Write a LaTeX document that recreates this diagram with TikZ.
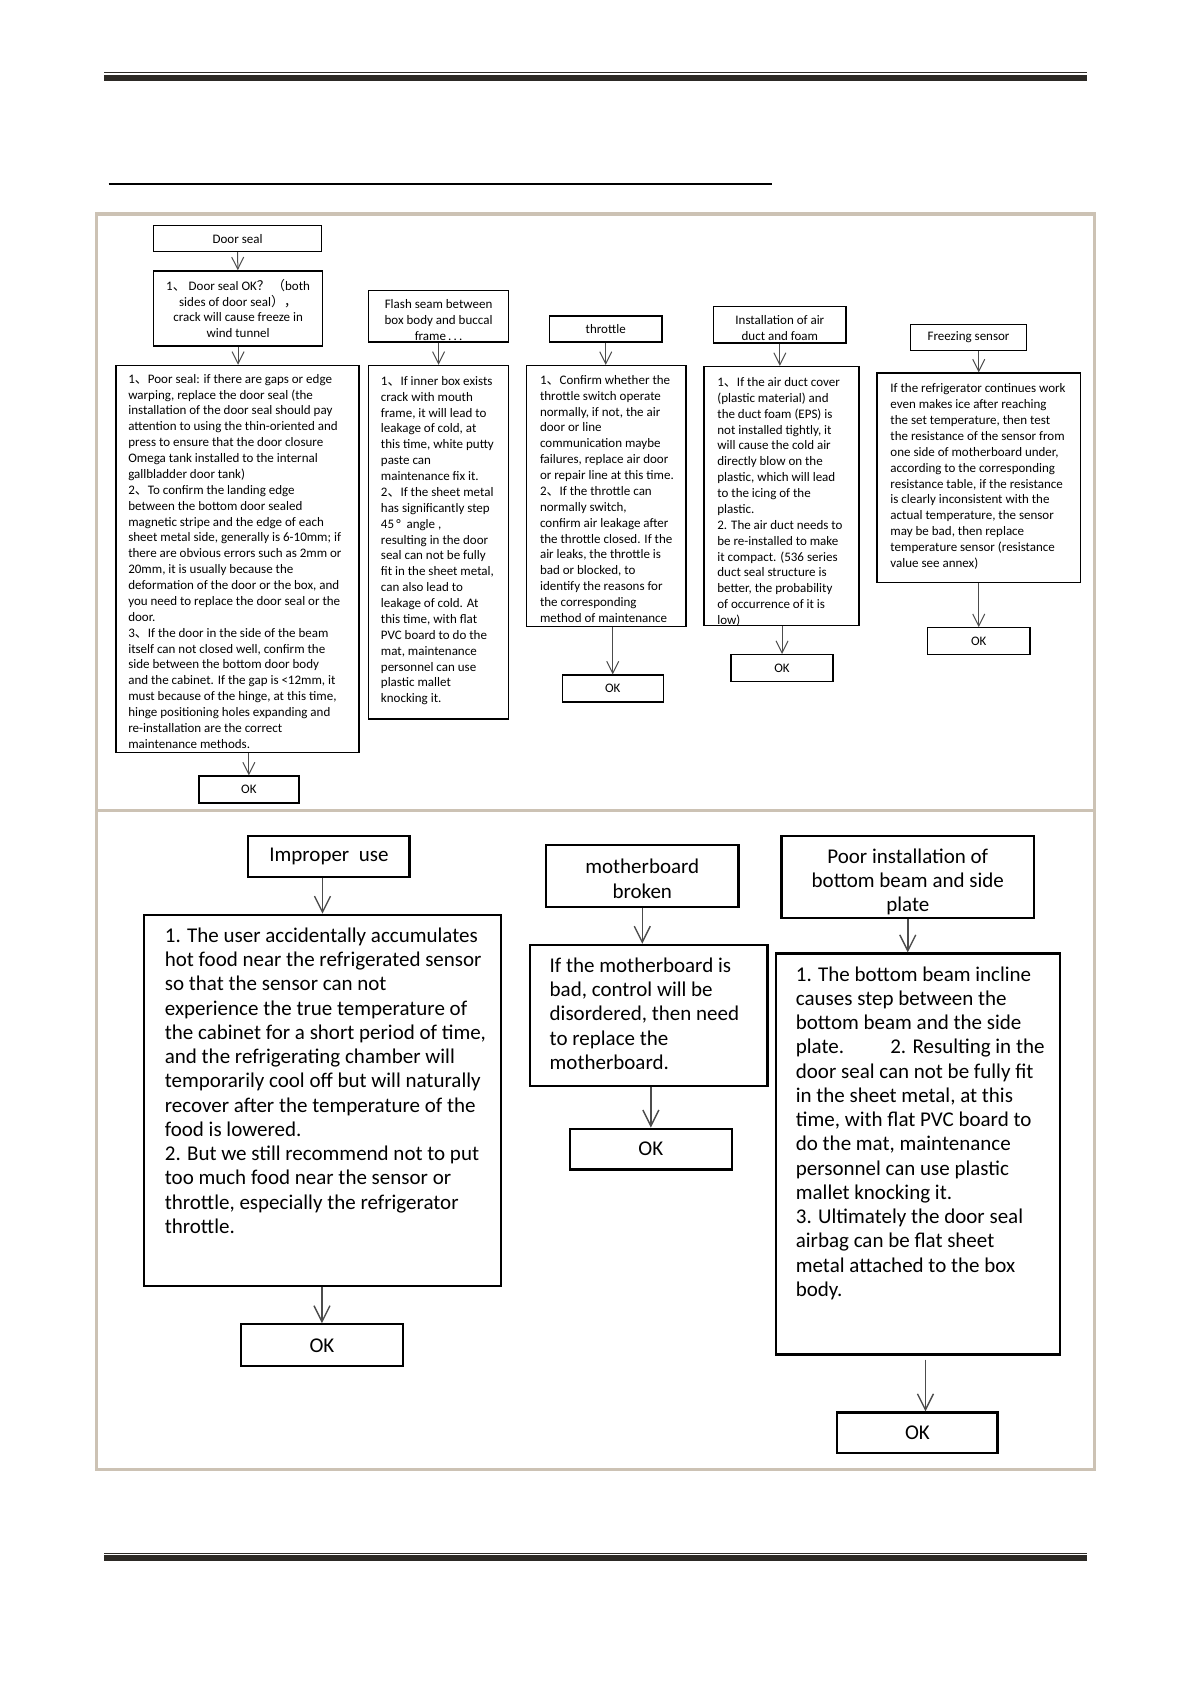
\documentclass[tikz,border=0pt]{standalone}
\usepackage{fontspec}
\setmainfont{Carlito}
\newfontfamily\cjk{Noto Sans CJK SC}
\usetikzlibrary{arrows.meta,fit}
\newcommand{\dun}{{\cjk 、}}
\definecolor{framecol}{RGB}{204,194,180}
\definecolor{barcol}{RGB}{45,42,38}
\tikzset{
  box/.style={draw, line width=0.7pt, inner sep=0pt},
  bigbox/.style={draw, line width=1.1pt, inner sep=0pt},
  small/.style={font=\fontsize{6.5}{7.94}\selectfont, inner sep=0pt},
  large/.style={font=\fontsize{10.5}{12.13}\selectfont, inner sep=0pt},
  body/.style={anchor=north west, align=left},
  intext/.style={label={[#1, align=center]center:}},
  arr/.style={draw=black!70, line width=0.5pt, -{Straight Barb[length=6pt,width=6pt]}},
  bigarr/.style={draw=black!70, line width=0.7pt, -{Straight Barb[length=8pt,width=8pt]}},
}
\begin{document}
\begin{tikzpicture}[x=0.5376pt, y=-0.5376pt]
  \useasboundingbox (0,0) rectangle (1107.9,1566.6);
  % page header, footer and frame
  \fill[barcol] (97,67.1) rectangle (1011,68.2);
  \fill[barcol] (97,69.4) rectangle (1011,75);
  \fill[barcol] (97,1444.6) rectangle (1011,1445.7);
  \fill[barcol] (97,1446.9) rectangle (1011,1452.5);
  \draw[line width=1.2pt] (101,171) -- (718,171);
  \draw[framecol, line width=1.6pt] (90,199) rectangle (1018,1367);
  \draw[framecol, line width=1.6pt] (90,754) -- (1018,754);

  % door seal
  \node[box, fit={(143,210) (299,234)},
        label={[small]center:Door seal}] (seal) {};
  \node[box, fit={(143,252) (300,322)},
        label={[small, align=center]center:1\dun{} Door seal OK{\cjk ？}\,{\cjk （}both\\sides of  door seal{\cjk ），}\\crack will cause freeze in\\wind tunnel}] (sealq) {};
  \node[box, fit={(108,340) (334,700)}] (seald) {};
  \node[small, body] (sealt) at (119,347.7)
    {1\dun Poor seal: if there are gaps or edge\\
     warping, replace the door seal (the\\
     installation of the door seal should pay\\
     attention to using the thin-oriented  and\\
     press to ensure that the door  closure\\
     Omega tank installed to the internal\\
     gallbladder door tank)\\
     2\dun To confirm the landing edge\\
     between the  bottom  door sealed\\
     magnetic stripe and the edge of each\\
     sheet metal side, generally is 6-10mm; if\\
     there are obvious errors such as 2mm or\\
     20mm, it is usually because the\\
     deformation of the door or the box, and\\
     you need to replace the door seal or the\\
     door.\\
     3\dun If the door in the side of the beam\\
     itself can not closed well, confirm the\\
     side  between the bottom door body\\
     and the cabinet.  If the gap is <12mm, it\\
     must because of the hinge, at this time,\\
     hinge positioning holes expanding and\\
     re-installation are the correct\\
     maintenance methods.};
  \node[box, fit={(185,722) (278,747)}, label={[small]center:OK}] (sealok) {};

  % flash seam
  \node[box, fit={(343,270) (473,318)}] (flash) {};
  \node[small, align=center] (flasht) at (408,298)
    {Flash seam between\\box body and buccal\\frame\,.\,.\,.};
  \node[box, fit={(343,340) (473,669)}] (flashd) {};
  \node[small, body] (flashdt) at (354,349.7)
    {1\dun If inner box exists\\
     crack with mouth\\
     frame, it will lead to\\
     leakage of cold, at\\
     this time, white putty\\
     paste can\\
     maintenance  fix it.\\
     2\dun If the sheet metal\\
     has significantly step\\
     45\,°\ \ angle ,\\
     resulting in the door\\
     seal can not be fully\\
     fit in the sheet metal,\\
     can also lead to\\
     leakage of cold. At\\
     this time, with flat\\
     PVC board to do the\\
     mat, maintenance\\
     personnel can use\\
     plastic mallet\\
     knocking it.};

  % throttle
  \node[box, fit={(511,294) (616,318)}, label={[small]center:throttle}] (thr) {};
  \node[box, fit={(490,340) (638,583)}] (thrd) {};
  \node[small, body] (thrdt) at (502,348.7)
    {1\dun Confirm whether the\\
     throttle  switch operate\\
     normally, if not, the air\\
     door or line\\
     communication maybe\\
     failures, replace air door\\
     or repair line at this time.\\
     2\dun If the throttle can\\
     normally switch,\\
     confirm air leakage  after\\
     the throttle closed. If the\\
     air leaks, the throttle is\\
     bad or blocked, to\\
     identify the reasons for\\
     the corresponding\\
     method of maintenance};
  \node[box, fit={(523,628) (617,653)}, label={[small]center:OK}] (throk) {};

  % air duct
  \node[box, fit={(664,285) (787,319)}] (duct) {};
  \node[small, align=center] (ductt) at (725.5,305.5)
    {Installation of air\\duct and foam};
  \node[box, fit={(655,341) (799,582)}] (ductd) {};
  \node[small, body] (ductdt) at (667,350.7)
    {1\dun If the air duct cover\\
     (plastic material) and\\
     the duct foam (EPS) is\\
     not installed tightly, it\\
     will cause the cold air\\
     directly blow on the\\
     plastic, which will lead\\
     to the icing of the\\
     plastic.\\
     2. The air duct needs to\\
     be re-installed to make\\
     it compact. (536 series\\
     duct seal structure is\\
     better, the probability\\
     of occurrence of it is\\
     low)};
  \node[box, fit={(680,609) (775,634)}, label={[small]center:OK}] (ductok) {};

  % freezing sensor
  \node[box, fit={(847,302) (955,326)}, label={[small]center:Freezing sensor}] (frz) {};
  \node[box, fit={(816,347) (1005,542)}] (frzd) {};
  \node[small, body] (frzdt) at (828,356.7)
    {If the refrigerator continues work\\
     even makes ice after reaching\\
     the set temperature, then test\\
     the resistance of the sensor from\\
     one side of motherboard  under,\\
     according to the corresponding\\
     resistance table, if the resistance\\
     is clearly inconsistent with the\\
     actual temperature, the sensor\\
     may be bad, then  replace\\
     temperature  sensor (resistance\\
     value see annex)};
  \node[box, fit={(863,584) (958,609)}, label={[small]center:OK}] (frzok) {};

  % improper use
  \node[bigbox, fit={(231,778) (381,816)}, label={[large]center:Improper\ \ use}] (use) {};
  \node[bigbox, fit={(134,851) (466,1196)}] (used) {};
  \node[large, body] (usedt) at (153,862.7)
    {1. The user accidentally accumulates\\
     hot food  near the refrigerated sensor\\
     so that the sensor can not\\
     experience the true temperature of\\
     the cabinet for a short period of time,\\
     and the refrigerating chamber will\\
     temporarily cool off but will naturally\\
     recover after the temperature of the\\
     food is lowered.\\
     2. But we still recommend not to put\\
     too much food near the sensor or\\
     throttle,  especially the refrigerator\\
     throttle.};
  \node[bigbox, fit={(224,1232) (375,1271)}, label={[large]center:OK}] (useok) {};

  % motherboard
  \node[bigbox, fit={(508,786) (687,844)}] (mb) {};
  \node[large, align=center] (mbt) at (597.5,817.5) {motherboard\\broken};
  \node[bigbox, fit={(493,879) (714,1010)}] (mbd) {};
  \node[large, body] (mbdt) at (511,890.7)
    {If the motherboard  is\\
     bad, control will be\\
     disordered, then  need\\
     to replace the\\
     motherboard.};
  \node[bigbox, fit={(530,1050) (681,1088)}, label={[large]center:OK}] (mbok) {};

  % bottom beam
  \node[bigbox, fit={(727,778) (962,854)}] (beam) {};
  \node[large, align=center] (beamt) at (844.5,820.5)
    {Poor installation of\\bottom  beam and side\\plate};
  \node[bigbox, fit={(722,887) (986,1260)}] (beamd) {};
  \node[large, body] (beamdt) at (740,898.7)
    {1. The bottom beam incline\\
     causes step between the\\
     bottom  beam and the side\\
     plate.\hspace{2.2em}2. Resulting in the\\
     door seal can not be fully fit\\
     in the sheet metal, at this\\
     time, with flat PVC board to\\
     do the mat, maintenance\\
     personnel can use plastic\\
     mallet knocking it.\\
     3. Ultimately the door seal\\
     airbag can be flat sheet\\
     metal attached to the box\\
     body.};
  \node[bigbox, fit={(779,1314) (928,1352)}, label={[large]center:OK}] (beamok) {};

  % connectors
  \begin{scope}[arr]
    \draw (seal) -- (sealq);
    \draw (sealq.south) -- (sealq.south |- seald.north);
    \draw (seald.south -| sealok.north) -- (sealok.north);
    \draw (flash) -- (flashd);
    \draw (thr.south) -- (thr.south |- thrd.north);
    \draw (thrd.south -| throk.north) -- (throk.north);
    \draw (duct.south) -- (duct.south |- ductd.north);
    \draw (ductd.south -| ductok.north) -- (ductok.north);
    \draw (frz.south -| frzd.north) -- (frzd.north);
    \draw (frzd.south -| frzok.north) -- (frzok.north);
  \end{scope}
  \begin{scope}[bigarr]
    \draw (use.south -| used.north) -- (used.north);
    \draw (used.south -| useok.north) -- (useok.north);
    \draw (mb.south) -- (mb.south |- mbd.north);
    \draw (mbd.south -| mbok.north) -- (mbok.north);
    \draw (beam.south) -- (beam.south |- beamd.north);
    \draw[shorten <=2pt] ([xshift=4]beamd.south -| beamok.north) -- ([xshift=4]beamok.north);
  \end{scope}
\end{tikzpicture}
\end{document}
